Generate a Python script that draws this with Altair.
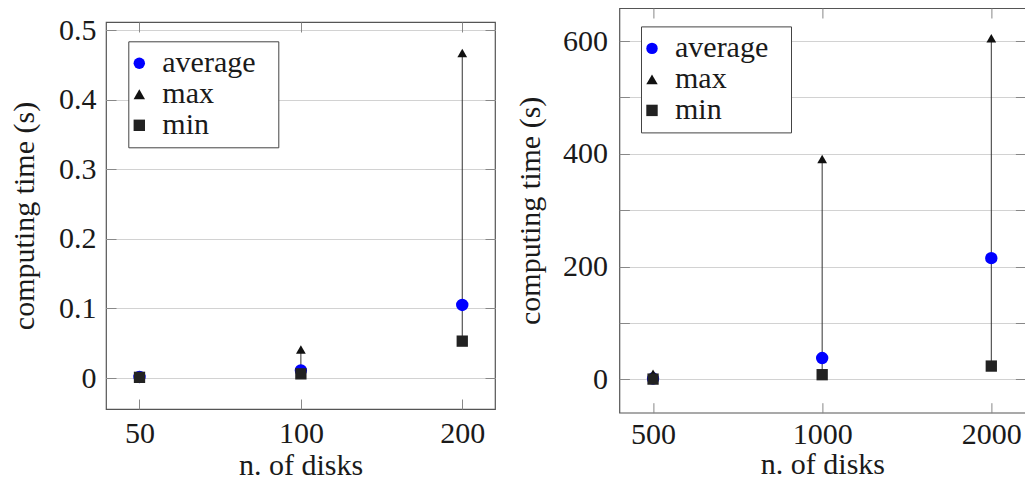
import altair as alt
import pandas as pd

# ---- data ----
types = ["average", "max", "min"]

left_disks = [50, 100, 200]
left_avg = [0.0015, 0.011, 0.105]
left_max = [0.003, 0.041, 0.467]
left_min = [0.001, 0.006, 0.053]
left_yticks = [0, 0.1, 0.2, 0.3, 0.4, 0.5]

right_disks = [500, 1000, 2000]
right_avg = [1.5, 37.8, 215]
right_max = [10, 391, 605]
right_min = [0.5, 8.3, 23.6]
right_yticks = [0, 100, 200, 300, 400, 500, 600]

FONT = "Liberation Serif"
FS = 30
TXT = "#1a1a1a"
COLORS = ["#0000ff", "#111111", "#222222"]
SHAPES = ["circle", "triangle-up", "square"]
SIZES = {"average": 154, "max": 95, "min": 128}


def long_df(disks, avg, mx, mn):
    rows = []
    for t, vals in zip(types, [avg, mx, mn]):
        for d, v in zip(disks, vals):
            rows.append({"disks": d, "type": t, "value": v, "sz": SIZES[t]})
    return pd.DataFrame(rows)


def range_df(disks, mx, mn):
    return pd.DataFrame({"disks": disks, "min": mn, "max": mx})


def tick_axis(values, orient):
    return alt.Axis(values=values, orient=orient, offset=-10, tickSize=10,
                    minExtent=0, maxExtent=10,
                    labels=False, domain=False, grid=False, title=None)


def panel(disks, avg, mx, mn, xdom, ydom, yticks, w, h, lx, ly,
          ylabpad, ytitlepad, xlabpad, xtitlepad, ylabelexpr, yformat):
    pts = long_df(disks, avg, mx, mn)
    rng = range_df(disks, mx, mn)
    xsc = alt.Scale(type="log", domain=xdom, nice=False)
    ysc = alt.Scale(domain=ydom, nice=False, zero=False)

    main_y_axis = dict(values=yticks, orient="left", grid=True, ticks=False, domain=False,
                       labelPadding=ylabpad, titlePadding=ytitlepad, format=yformat,
                       title="computing time (s)")
    if ylabelexpr:
        main_y_axis["labelExpr"] = ylabelexpr

    rules = alt.Chart(rng).mark_rule(color="#333333", strokeWidth=1).encode(
        x=alt.X("disks:Q", scale=xsc,
                axis=alt.Axis(values=disks, orient="bottom", grid=False, ticks=False,
                              domain=False, format="d", labelPadding=xlabpad,
                              titlePadding=xtitlepad, title="n. of disks")),
        y=alt.Y("min:Q", scale=ysc, axis=alt.Axis(**main_y_axis)),
        y2="max:Q",
    )

    points = alt.Chart(pts).mark_point(filled=True, opacity=1).encode(
        x=alt.X("disks:Q", scale=xsc, axis=tick_axis(disks, "bottom")),
        y=alt.Y("value:Q", scale=ysc, axis=tick_axis(yticks, "left")),
        color=alt.Color("type:N", scale=alt.Scale(domain=types, range=COLORS),
                        legend=alt.Legend(title="a", titleOrient="right", titleOpacity=0,
                                          titleFontSize=2, titlePadding=14,
                                          orient="none", legendX=lx, legendY=ly,
                                          fillColor="white", strokeColor="#444444",
                                          padding=7, rowPadding=1, labelOffset=8,
                                          symbolOffset=-11,
                                          symbolSize=130, symbolStrokeWidth=0,
                                          labelLimit=400,
                                          labelFont=FONT, labelFontSize=FS, labelColor=TXT)),
        shape=alt.Shape("type:N", scale=alt.Scale(domain=types, range=SHAPES)),
        size=alt.Size("sz:Q", scale=None),
    )

    ticks2 = alt.Chart(rng).mark_rule(opacity=0).encode(
        x=alt.X("disks:Q", scale=xsc, axis=tick_axis(disks, "top")),
        y=alt.Y("min:Q", scale=ysc, axis=tick_axis(yticks, "right")),
        y2="max:Q",
    )

    return alt.layer(rules, points, ticks2).resolve_axis(
        x="independent", y="independent").properties(width=w, height=h)


left = panel(left_disks, left_avg, left_max, left_min,
             xdom=[43.3, 230.2], ydom=[-0.0445, 0.5115], yticks=left_yticks,
             w=389, h=387, lx=22.3, ly=33.3, ylabpad=10, ytitlepad=19, xlabpad=9.3,
             xtitlepad=2, ylabelexpr=None, yformat=".1~f")

# invisible spacer that lowers the left panel relative to the right one
spacer = alt.Chart(pd.DataFrame({"s": [0]})).mark_point(opacity=0).encode(
    x=alt.X("s:Q", axis=None), y=alt.Y("s:Q", axis=None)
).properties(width=389, height=5, view=alt.ViewBackground(stroke="transparent"))

left_col = alt.vconcat(spacer, left, spacing=0)

right = panel(right_disks, right_avg, right_max, right_min,
              xdom=[435.6, 2300], ydom=[-59.1, 658.7], yticks=right_yticks,
              w=406, h=404.7, lx=21.6, ly=18.4, ylabpad=12, ytitlepad=17, xlabpad=7,
              xtitlepad=0,
              ylabelexpr="datum.value % 200 === 0 ? datum.label : ''", yformat="d")

chart = alt.hconcat(left_col, right, spacing=17.4).resolve_scale(
    color="independent", shape="independent"
).resolve_legend(
    color="independent", shape="independent"
).properties(
    padding={"left": 0, "top": -2, "right": -2, "bottom": -1.5}
).configure_view(
    stroke="#555555", strokeWidth=1.2
).configure_axis(
    labelFont=FONT, labelFontSize=FS, labelColor=TXT,
    titleFont=FONT, titleFontSize=FS, titleFontWeight="normal", titleColor=TXT,
    gridColor="#d2d2d2", gridWidth=1, tickColor="#888888", tickWidth=1,
).configure_legend(
    labelFont=FONT, labelFontSize=FS
)

chart.save("out.html", embed_options={"renderer": "svg", "actions": False})
